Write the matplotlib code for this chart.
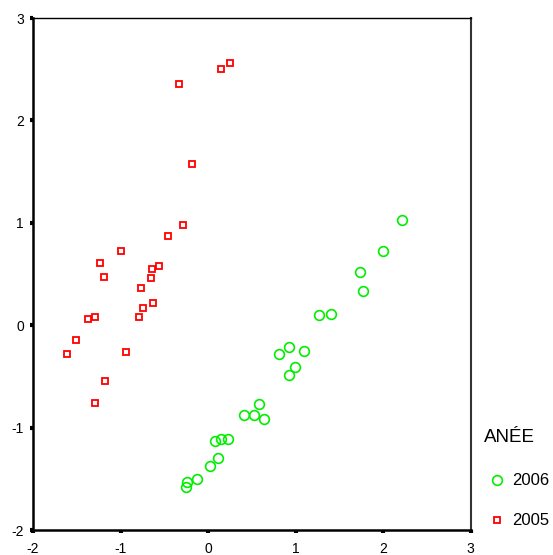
import matplotlib
matplotlib.use("Agg")
import matplotlib.pyplot as plt
from matplotlib.lines import Line2D

plt.rcParams['font.family'] = ['Liberation Sans', 'DejaVu Sans']

x_2005 = [-0.335, 0.152, 0.255, -0.179, -0.286, -0.457, -0.998, -1.231, -1.192, -0.636,
          -0.563, -0.651, -0.769, -0.632, -0.739, -0.789, -1.368, -1.295, -1.509, -1.615,
          -0.934, -1.173, -1.295]
y_2005 = [2.355, 2.505, 2.564, 1.577, 0.979, 0.874, 0.727, 0.604, 0.473, 0.545,
          0.574, 0.463, 0.366, 0.217, 0.171, 0.080, 0.064, 0.080, -0.145, -0.278,
          -0.262, -0.548, -0.757]

x_2006 = [2.213, 2.004, 1.741, 1.775, 1.269, 1.411, 0.815, 0.922, 1.094, 0.990,
          0.922, 0.587, 0.415, 0.522, 0.644, 0.080, 0.152, 0.229, 0.118, 0.026,
          -0.126, -0.237, -0.251]
y_2006 = [1.024, 0.725, 0.516, 0.337, 0.095, 0.109, -0.278, -0.216, -0.249, -0.411,
          -0.483, -0.770, -0.877, -0.877, -0.919, -1.128, -1.115, -1.115, -1.294, -1.372,
          -1.502, -1.531, -1.580]

xticks = [-2, -1, 0, 1, 2, 3]
yticks = [-2, -1, 0, 1, 2, 3]
legend_title = "ANÉE"
series_labels = ["2006", "2005"]

fig = plt.figure(figsize=(5.53, 5.55), dpi=100)
ax = fig.add_axes([33/553, 1-530/555, (470.5-33)/553, (530-18)/555])

ax.plot(x_2006, y_2006, linestyle='none', marker='o', markersize=7,
        markerfacecolor='none', markeredgecolor='#00ee00', markeredgewidth=1.2)
ax.plot(x_2005, y_2005, linestyle='none', marker='s', markersize=5,
        markerfacecolor='none', markeredgecolor='#ff0000', markeredgewidth=1.3)

ax.set_xlim(-2, 3)
ax.set_ylim(-2, 3)
ax.set_xticks(xticks)
ax.set_yticks(yticks)
ax.set_xticklabels([str(t) for t in xticks])
ax.set_yticklabels([str(t) for t in yticks])
ax.tick_params(direction='out', length=2.5, width=3, labelsize=10, colors='black')
ax.tick_params(axis='x', pad=6)
ax.tick_params(axis='y', pad=4)

for side in ['left', 'bottom']:
    ax.spines[side].set_linewidth(1.8)
    ax.spines[side].set_color('black')
ax.spines['top'].set_linewidth(1.0)
ax.spines['top'].set_color('black')
ax.spines['right'].set_linewidth(1.5)
ax.spines['right'].set_color('#333333')

fig.text(484/553, 1-437/555, legend_title, fontsize=13.5, va='center', ha='left')
handles = [
    Line2D([], [], linestyle='none', marker='o', markersize=7, markerfacecolor='none',
           markeredgecolor='#00ee00', markeredgewidth=1.2),
    Line2D([], [], linestyle='none', marker='s', markersize=5, markerfacecolor='none',
           markeredgecolor='#ff0000', markeredgewidth=1.3),
]
leg = fig.legend(handles, series_labels, loc='upper left',
                 bbox_to_anchor=(480/553, 1-465/555), frameon=False, fontsize=12,
                 handlelength=1.0, handletextpad=0.4, labelspacing=1.5, borderpad=0)

fig.savefig("out.png", dpi=100)
